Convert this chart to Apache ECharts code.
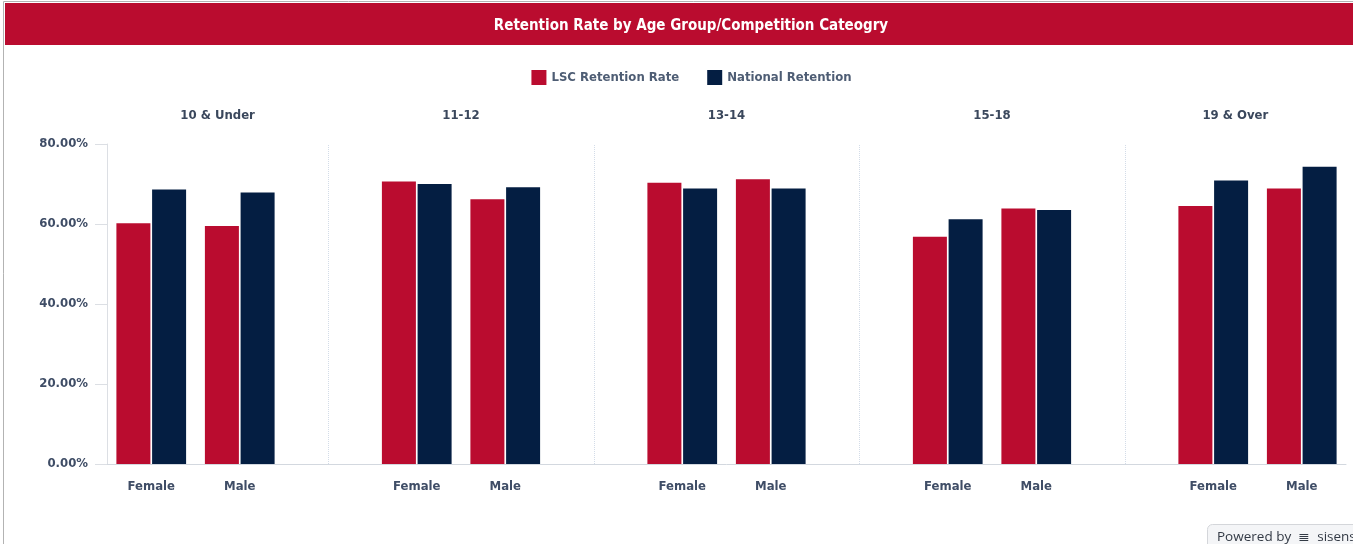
<!DOCTYPE html>
<html lang="en">
  <head>
    <meta charset="UTF-8" />
    <title>Retention Rate by Age Group</title>
    <script src="https://cdn.jsdelivr.net/npm/echarts@6/dist/echarts.min.js"></script>
    <style>
      html, body { margin: 0; padding: 0; width: 1353px; height: 544px; overflow: hidden; background: #fff; }
      #chart { position: absolute; left: 0; top: 0; width: 1383px; height: 544px; }
    </style>
  </head>
  <body>
    <div id="chart"></div>
    <script>
      // values (percent)
      const ageGroups = ["10 & Under", "11-12", "13-14", "15-18", "19 & Over"];
      const genders = ["Female", "Male"];
      const lscRetention = [60.2, 59.5, 70.6, 66.2, 70.3, 71.2, 56.8, 63.9, 64.5, 68.9];
      const nationalRetention = [68.6, 67.9, 70.0, 69.2, 68.9, 68.9, 61.2, 63.5, 70.9, 74.3];
      const yTicks = [0, 20, 40, 60, 80];

      const RED = "#ba0c2f";
      const NAVY = "#041e42";
      const TEXT = "#3f4d66";
      const FONT = "'DejaVu Sans Condensed', 'Liberation Sans Narrow', sans-serif";

      // one slot per gender, plus a spacer slot between age groups
      let categories = [];
      let lscData = [];
      let natData = [];
      let separators = [];
      ageGroups.forEach(function (g, gi) {
        genders.forEach(function (s, si) {
          categories.push(s);
          lscData.push(lscRetention[gi * 2 + si]);
          natData.push(nationalRetention[gi * 2 + si]);
        });
        if (gi < ageGroups.length - 1) {
          separators.push(categories.length);
          categories.push("sep" + gi);
          lscData.push("-");
          natData.push("-");
        }
      });

      let chart = echarts.init(document.getElementById("chart"), null, { renderer: "canvas" });

      chart.setOption({
        animation: false,
        textStyle: { fontFamily: FONT },
        legend: {
          top: 65,
          left: "center",
          itemWidth: 15,
          itemHeight: 15,
          itemGap: 28,
          icon: "rect",
          textStyle: { color: "#4e5d74", fontSize: 13, fontWeight: "bold", fontFamily: FONT },
          data: ["LSC Retention Rate", "National Retention"],
        },
        grid: { left: 107, right: 37, top: 144, bottom: 80, containLabel: false },
        xAxis: {
          type: "category",
          data: categories,
          axisTick: { show: false },
          axisLine: { lineStyle: { color: "#d3d8df", width: 1 } },
          axisLabel: {
            interval: 0,
            margin: 16,
            color: TEXT,
            fontSize: 13,
            fontWeight: "bold",
            fontFamily: FONT,
            formatter: function (v) { return v.indexOf("sep") === 0 ? "" : v; },
          },
        },
        yAxis: {
          type: "value",
          min: yTicks[0],
          max: yTicks[yTicks.length - 1],
          interval: 20,
          splitLine: { show: false },
          axisLine: { show: true, lineStyle: { color: "#dcdfe4" } },
          axisTick: { show: true, length: 12, lineStyle: { color: "#dcdfe4" } },
          axisLabel: {
            margin: 19,
            color: TEXT,
            fontSize: 13,
            fontWeight: "bold",
            fontFamily: FONT,
            formatter: function (v) { return v.toFixed(2) + "%"; },
          },
        },
        series: [
          {
            name: "LSC Retention Rate",
            type: "bar",
            barWidth: 34,
            barGap: "5%",
            itemStyle: { color: RED },
            data: lscData,
          },
          {
            name: "National Retention",
            type: "bar",
            barWidth: 34,
            itemStyle: { color: NAVY },
            data: natData,
          },
          {
            // carrier for the dotted group dividers (no bar offset)
            name: "dividers",
            type: "line",
            data: [],
            silent: true,
            markLine: {
              silent: true,
              symbol: "none",
              label: { show: false },
              lineStyle: { color: "#d3dce8", type: "dotted", width: 1 },
              data: separators.map(function (i) { return { xAxis: categories[i] }; }),
            },
          },
        ],
      });

      // header bar, frame, age-group labels and badge, placed from the axis scale
      let px = function (i) { return chart.convertToPixel({ xAxisIndex: 0 }, i); };
      let step = px(1) - px(0);
      let bounds = [px(0) - step / 2];
      separators.forEach(function (i) { bounds.push(px(i)); });
      bounds.push(px(categories.length - 1) + step / 2);

      let groupLabels = ageGroups.map(function (g, gi) {
        return {
          type: "text",
          x: (bounds[gi] + bounds[gi + 1]) / 2,
          y: 116,
          style: {
            text: g,
            align: "center",
            verticalAlign: "middle",
            fill: "#3a475c",
            fontSize: 13,
            fontWeight: "bold",
            fontFamily: FONT,
          },
        };
      });

      chart.setOption({
        graphic: [
          {
            type: "rect",
            shape: { x: 3.5, y: 1.5, width: 1500, height: 700 },
            style: { fill: "none", stroke: "#b3b3b3", lineWidth: 1 },
          },
          {
            type: "rect",
            shape: { x: 5, y: 3, width: 1500, height: 42 },
            style: { fill: RED },
          },
          {
            type: "text",
            x: 691,
            y: 26,
            style: {
              text: "Retention Rate by Age Group/Competition Cateogry",
              align: "center",
              verticalAlign: "middle",
              fill: "#ffffff",
              fontSize: 15,
              fontWeight: "bold",
              fontFamily: FONT,
            },
          },
          {
            type: "rect",
            shape: { x: 1207.5, y: 524.5, width: 200, height: 30, r: [5, 0, 0, 0] },
            style: { fill: "#f4f5f7", stroke: "#d4d6da", lineWidth: 1 },
          },
          {
            type: "text",
            x: 1217,
            y: 537,
            style: {
              text: "Powered by  \u2263  sisense",
              verticalAlign: "middle",
              fill: "#333a45",
              fontSize: 13.5,
              fontFamily: "'Open Sans', 'Noto Sans', sans-serif",
            },
          },
        ].concat(groupLabels),
      });
    </script>
  </body>
</html>
